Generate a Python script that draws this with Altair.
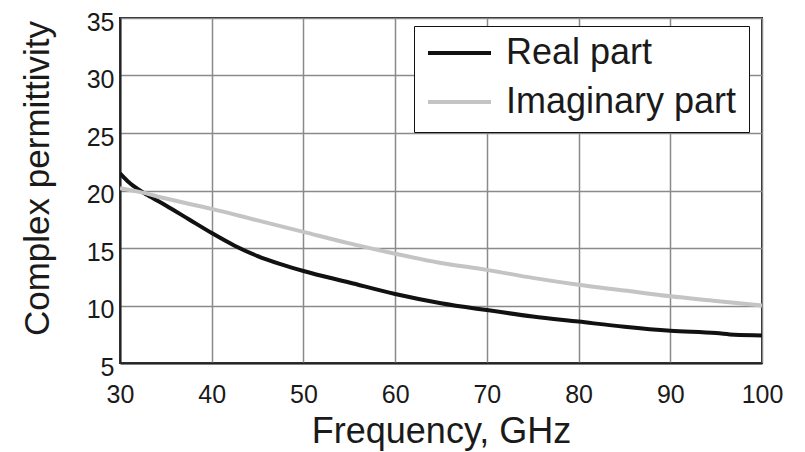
import altair as alt
import pandas as pd

freq_real = [30, 31, 32, 33, 35, 37.5, 40, 42.5, 45, 47.5, 50, 55, 60, 65, 70, 75, 80, 85, 90, 95, 97, 100]
real_vals = [21.5, 20.7, 20.1, 19.6, 18.7, 17.5, 16.3, 15.2, 14.3, 13.6, 13.0, 12.0, 11.0, 10.2, 9.6, 9.05, 8.6, 8.15, 7.8, 7.6, 7.45, 7.4]

freq_imag = [30, 32, 35, 40, 45, 50, 55, 60, 65, 70, 75, 80, 85, 90, 95, 100]
imag_vals = [20.2, 19.9, 19.3, 18.4, 17.4, 16.4, 15.4, 14.5, 13.7, 13.1, 12.4, 11.8, 11.3, 10.8, 10.4, 10.0]

series_names = ["Real part", "Imaginary part"]
series_colors = ["#111111", "#c4c4c4"]

x_ticks = [30, 40, 50, 60, 70, 80, 90, 100]
y_ticks = [5, 10, 15, 20, 25, 30, 35]

df = pd.concat([
    pd.DataFrame({"f": freq_real, "v": real_vals, "s": series_names[0]}),
    pd.DataFrame({"f": freq_imag, "v": imag_vals, "s": series_names[1]}),
])

FONT = "Liberation Sans"

chart = alt.Chart(df).mark_line(strokeWidth=4, clip=True, interpolate="monotone").encode(
    x=alt.X("f:Q", scale=alt.Scale(domain=[30, 100], nice=False),
            axis=alt.Axis(values=x_ticks, title="Frequency, GHz", labelFontSize=25,
                          titleFontSize=36, labelPadding=19, titlePadding=7,
                          labelFlush=False,
                          ticks=False, grid=True, gridColor="#8a8a8a", gridWidth=1.5,
                          domainColor="#222", domainWidth=2, labelColor="#1a1a1a",
                          titleColor="#1a1a1a", titleFontWeight="normal", labelFont=FONT,
                          titleFont=FONT)),
    y=alt.Y("v:Q", scale=alt.Scale(domain=[5, 35], nice=False),
            axis=alt.Axis(values=y_ticks, title="Complex permittivity", labelFontSize=25,
                          titleFontSize=35, labelPadding=6, titlePadding=31,
                          labelOffset=4, labelFlush=False, titleY=160,
                          ticks=False, grid=True, gridColor="#8a8a8a", gridWidth=1.5,
                          domainColor="#222", domainWidth=2, labelColor="#1a1a1a",
                          titleColor="#1a1a1a", titleFontWeight="normal", labelFont=FONT,
                          titleFont=FONT)),
    color=alt.Color("s:N", scale=alt.Scale(domain=series_names, range=series_colors),
                    sort=series_names,
                    legend=alt.Legend(title=None, orient="none", legendX=294, legendY=8,
                                      symbolType="stroke", symbolSize=3969,
                                      symbolStrokeWidth=4, labelFontSize=36,
                                      labelFont=FONT, labelColor="#1a1a1a",
                                      labelOffset=13, rowPadding=13, padding=12,
                                      clipHeight=30,
                                      strokeColor="#111", fillColor="white",
                                      labelLimit=400)),
).properties(
    width=642, height=345,
    padding={"left": 120, "top": 18, "right": 43, "bottom": 89},
    autosize=alt.AutoSizeParams(type="none"),
    background="white",
).configure_view(stroke="#222", strokeWidth=2)

chart.save("out.html", embed_options={"renderer": "svg", "actions": False})
